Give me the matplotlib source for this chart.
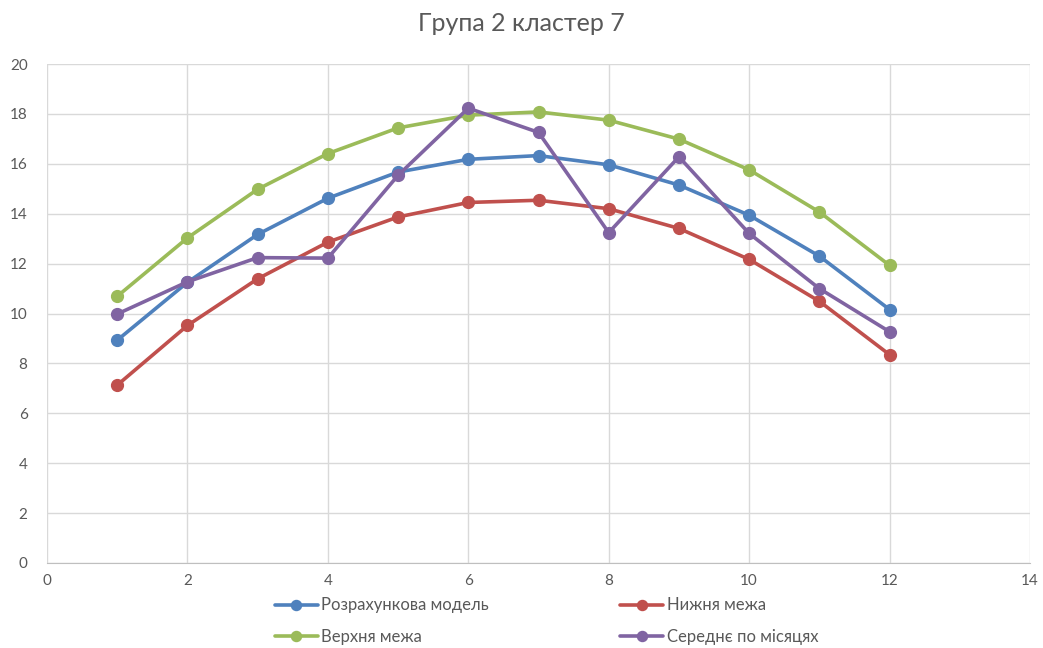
import matplotlib.pyplot as plt

plt.rcParams['font.family'] = ['Lato', 'DejaVu Sans']

months = [1, 2, 3, 4, 5, 6, 7, 8, 9, 10, 11, 12]
model = [8.93, 11.25, 13.17, 14.62, 15.67, 16.18, 16.33, 15.96, 15.15, 13.94, 12.3, 10.16]
lower = [7.13, 9.52, 11.39, 12.86, 13.87, 14.45, 14.54, 14.2, 13.41, 12.17, 10.49, 8.35]
upper = [10.69, 13.03, 14.98, 16.41, 17.44, 17.95, 18.08, 17.75, 16.99, 15.76, 14.07, 11.93]
monthly_mean = [9.98, 11.27, 12.24, 12.22, 15.54, 18.23, 17.26, 13.24, 16.28, 13.21, 11.0, 9.27]

series = [
    ('Розрахункова модель', model, '#4F81BD'),
    ('Нижня межа', lower, '#C0504D'),
    ('Верхня межа', upper, '#9BBB59'),
    ('Середнє по місяцях', monthly_mean, '#8064A2'),
]

fig = plt.figure(figsize=(10.43, 6.48), dpi=100)
ax = fig.add_axes([0.0451, 0.1312, 0.9424, 0.77])

lines = {}
for name, vals, col in series:
    lines[name], = ax.plot(months, vals, color=col, lw=2.6, marker='o', ms=8.5,
                           label=name, solid_capstyle='round')

ax.set_xlim(0, 14)
ax.set_ylim(0, 20)
ax.set_xticks(range(0, 15, 2))
ax.set_yticks(range(0, 21, 2))
ax.grid(True, color='#D9D9D9', lw=1)
ax.set_axisbelow(True)
for s in ['top', 'right', 'left']:
    ax.spines[s].set_visible(False)
ax.spines['bottom'].set_color('#BFBFBF')
ax.tick_params(length=0, colors='#595959', labelsize=11, pad=8)
ax.tick_params(axis='y', pad=14)

fig.suptitle('Група 2 кластер 7', x=0.5, y=0.982, fontsize=18, color='#595959')

# legend filled column by column, so order handles to read row by row
order = ['Розрахункова модель', 'Верхня межа', 'Нижня межа', 'Середнє по місяцях']
fig.legend([lines[n] for n in order], order,
           loc='lower center', bbox_to_anchor=(0.524, -0.019), ncol=2,
           frameon=False, fontsize=12, labelcolor='#595959',
           handlelength=2.6, handletextpad=0.2, columnspacing=7.85,
           labelspacing=0.95, markerscale=0.85)

fig.savefig('out.png', dpi=100)
